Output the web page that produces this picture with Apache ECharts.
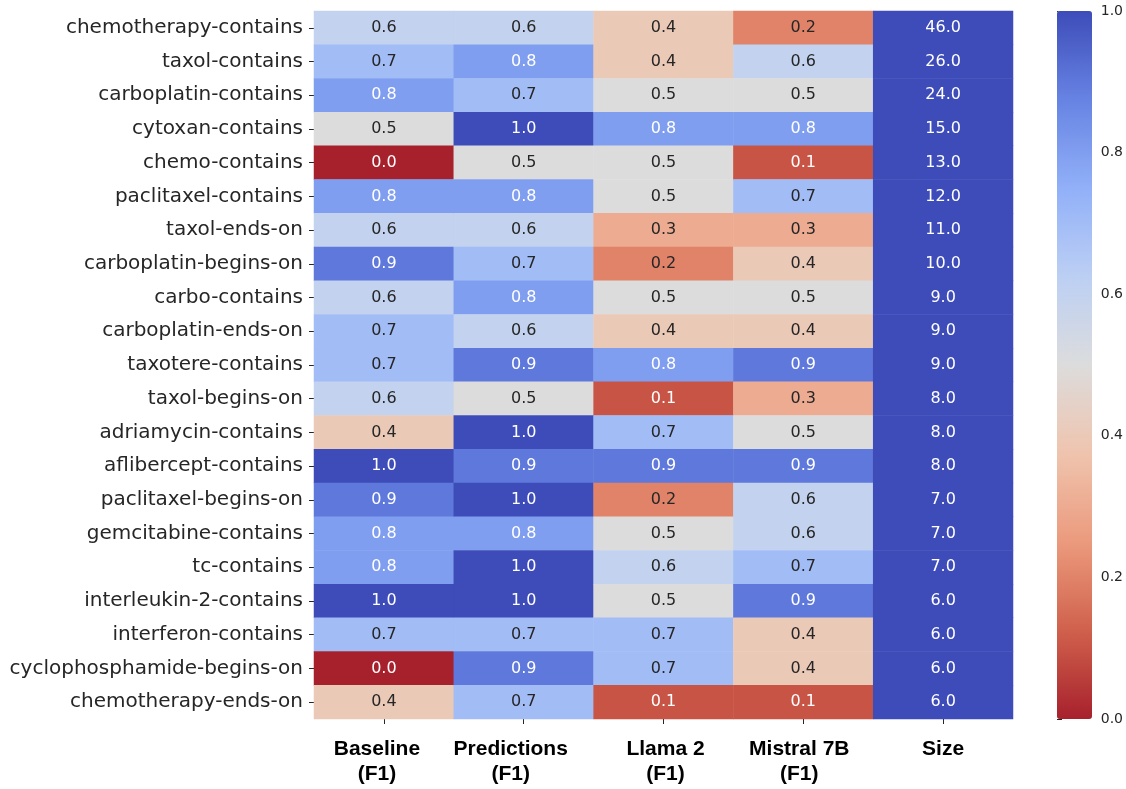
<!DOCTYPE html>
<html>
<head>
<meta charset="utf-8">
<script src="https://cdn.jsdelivr.net/npm/echarts@6/dist/echarts.min.js"></script>
<style>
  html, body { margin: 0; padding: 0; background: #ffffff; }
  #chart { width: 1126px; height: 789px; }
</style>
</head>
<body>
<div id="chart"></div>
<script>
// Row labels, top to bottom
const rowLabels = [
  'chemotherapy-contains', 'taxol-contains', 'carboplatin-contains', 'cytoxan-contains',
  'chemo-contains', 'paclitaxel-contains', 'taxol-ends-on', 'carboplatin-begins-on',
  'carbo-contains', 'carboplatin-ends-on', 'taxotere-contains', 'taxol-begins-on',
  'adriamycin-contains', 'aflibercept-contains', 'paclitaxel-begins-on', 'gemcitabine-contains',
  'tc-contains', 'interleukin-2-contains', 'interferon-contains', 'cyclophosphamide-begins-on',
  'chemotherapy-ends-on'
];

// Column labels
const colLabels = ['Baseline\n(F1)', 'Predictions\n(F1)', 'Llama 2\n(F1)', 'Mistral 7B\n(F1)', 'Size'];

// F1 scores per row
const baselineF1    = [0.6, 0.7, 0.8, 0.5, 0.0, 0.8, 0.6, 0.9, 0.6, 0.7, 0.7, 0.6, 0.4, 1.0, 0.9, 0.8, 0.8, 1.0, 0.7, 0.0, 0.4];
const predictionsF1 = [0.6, 0.8, 0.7, 1.0, 0.5, 0.8, 0.6, 0.7, 0.8, 0.6, 0.9, 0.5, 1.0, 0.9, 1.0, 0.8, 1.0, 1.0, 0.7, 0.9, 0.7];
const llama2F1      = [0.4, 0.4, 0.5, 0.8, 0.5, 0.5, 0.3, 0.2, 0.5, 0.4, 0.8, 0.1, 0.7, 0.9, 0.2, 0.5, 0.6, 0.5, 0.7, 0.7, 0.1];
const mistral7bF1   = [0.2, 0.6, 0.5, 0.8, 0.1, 0.7, 0.3, 0.4, 0.5, 0.4, 0.9, 0.3, 0.5, 0.9, 0.6, 0.6, 0.7, 0.9, 0.4, 0.4, 0.1];
// Number of examples per row
const sizeCounts    = [46, 26, 24, 15, 13, 12, 11, 10, 9, 9, 9, 8, 8, 8, 7, 7, 7, 6, 6, 6, 6];

// Colorbar tick values
const colorbarTicks = [0.0, 0.2, 0.4, 0.6, 0.8, 1.0];

// Reversed "coolwarm" palette: 0 -> red, 1 -> blue
const coolwarmReversed = [
  '#a7212d', '#d0614c', '#eb9a7d', '#efc4ae', '#dcdcdc',
  '#bccff4', '#91b0f8', '#6783e3', '#3d4cb9'
];

const columns = [baselineF1, predictionsF1, llama2F1, mistral7bF1, sizeCounts];

const cells = [];
columns.forEach((col, ci) => {
  col.forEach((v, ri) => {
    const light = v > 0.15 && v < 0.75;
    cells.push({
      value: [ci, ri, v],
      label: { color: light ? '#262626' : '#ffffff' }
    });
  });
});

const GRID_LEFT = 314, GRID_TOP = 11, GRID_W = 699, GRID_H = 708;
const CB_LEFT = 1057, CB_W = 35;

// Horizontal nudge (px) of each column heading relative to its tick
const headingShift = [-7, -13, 2, -4, 0];
const headingRich = {};
headingShift.forEach((s, i) => {
  headingRich['h' + i] = {
    fontFamily: '"Liberation Sans", Arial, sans-serif',
    fontWeight: 'bold',
    fontSize: 21,
    lineHeight: 25,
    color: '#000000',
    padding: s < 0 ? [0, -2 * s, 0, 0] : [0, 0, 0, 2 * s]
  };
});

const chart = echarts.init(document.getElementById('chart'));
chart.setOption({
  backgroundColor: '#ffffff',
  animation: false,
  grid: [
    { left: GRID_LEFT, top: GRID_TOP, width: GRID_W, height: GRID_H },
    { left: CB_LEFT, top: GRID_TOP, width: CB_W, height: GRID_H }
  ],
  xAxis: [
    {
      type: 'category',
      gridIndex: 0,
      data: colLabels,
      position: 'bottom',
      axisLine: { show: false },
      axisTick: { show: true, alignWithLabel: true, length: 5, lineStyle: { color: '#262626' } },
      axisLabel: {
        margin: 18,
        interval: 0,
        formatter: (val, idx) => val.split('\n').map(line => '{h' + idx + '|' + line + '}').join('\n'),
        rich: headingRich
      },
      splitLine: { show: false }
    },
    {
      type: 'value',
      gridIndex: 1,
      show: false
    }
  ],
  yAxis: [
    {
      type: 'category',
      gridIndex: 0,
      data: rowLabels,
      inverse: true,
      axisLine: { show: false },
      axisTick: { show: true, alignWithLabel: true, length: 5, lineStyle: { color: '#262626' } },
      axisLabel: {
        margin: 11,
        fontFamily: '"DejaVu Sans", sans-serif',
        fontSize: 20,
        color: '#262626',
        interval: 0
      },
      splitLine: { show: false }
    },
    {
      type: 'value',
      gridIndex: 1,
      min: 0,
      max: 1,
      interval: 0.2,
      position: 'right',
      axisLine: { show: false },
      axisTick: { show: true, length: 5, lineStyle: { color: '#262626' } },
      axisLabel: {
        margin: 10,
        fontFamily: '"DejaVu Sans", sans-serif',
        fontSize: 14,
        color: '#262626',
        formatter: v => colorbarTicks.includes(Math.round(v * 10) / 10) ? v.toFixed(1) : ''
      },
      splitLine: { show: false }
    }
  ],
  visualMap: {
    type: 'continuous',
    min: 0,
    max: 1,
    dimension: 2,
    seriesIndex: 0,
    calculable: false,
    hoverLink: false,
    realtime: false,
    orient: 'vertical',
    left: CB_LEFT,
    top: GRID_TOP,
    itemWidth: CB_W,
    itemHeight: GRID_H,
    padding: 0,
    text: null,
    showLabel: false,
    inRange: { color: coolwarmReversed }
  },
  series: [{
    type: 'heatmap',
    xAxisIndex: 0,
    yAxisIndex: 0,
    data: cells,
    itemStyle: { borderWidth: 0 },
    label: {
      show: true,
      fontFamily: '"DejaVu Sans", sans-serif',
      fontSize: 16,
      formatter: p => p.value[2].toFixed(1)
    },
    emphasis: { disabled: true }
  }]
});
</script>
</body>
</html>
